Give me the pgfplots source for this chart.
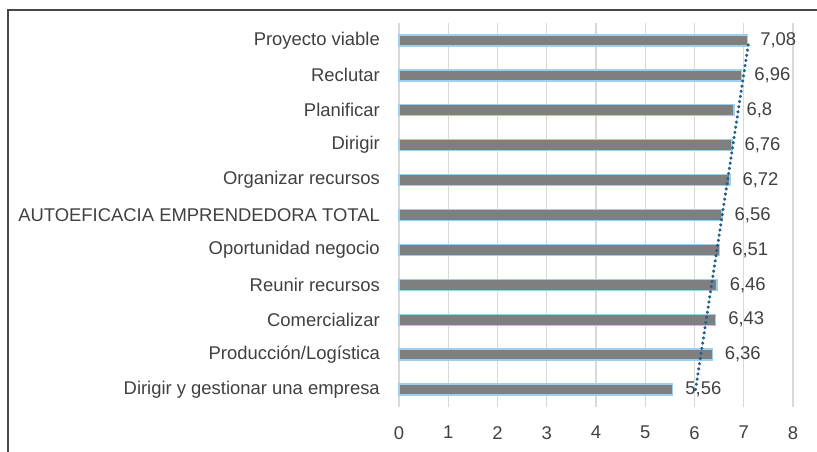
\documentclass[border=0pt]{standalone}
\usepackage{fontspec}
\setmainfont{Liberation Sans}
\usepackage{pgfplots}
\usepackage{pgfplotstable}
\pgfplotsset{compat=1.18}
\definecolor{barfill}{HTML}{7F7F7F}
\definecolor{baredge}{HTML}{9DD0EC}
\definecolor{trendc}{HTML}{1F5F8A}
\definecolor{txt}{HTML}{404040}
\definecolor{gridc}{HTML}{D9D9D9}
\pgfplotstableread{
idx val
0 5.56
1 6.36
2 6.43
3 6.46
4 6.51
5 6.56
6 6.72
7 6.76
8 6.80
9 6.96
10 7.08
}\datatable
\pgfplotstablecreatecol[linear regression={x=idx,y=val}]{trendx}\datatable
\begin{document}
\begin{tikzpicture}
\begin{axis}[
  at={(0,0)}, anchor=south west,
  scale only axis, width=394bp, height=384bp,
  xmin=0, xmax=8, ymin=-0.5, ymax=10.5,
  bar width=11bp,
  xtick={0,1,...,8},
  ytick={0,1,...,10},
  yticklabels={Dirigir y gestionar una empresa, Producción/Logística, Comercializar, Reunir recursos, Oportunidad negocio, AUTOEFICACIA EMPRENDEDORA TOTAL, Organizar recursos, Dirigir, Planificar, Reclutar, Proyecto viable},
  /pgf/number format/assume math mode=true,
  ticklabel style={font=\fontsize{18.5}{22}\selectfont, text=txt},
  yticklabel style={inner sep=0pt, anchor=east, xshift=-19bp},
  xticklabel style={inner sep=0pt, anchor=north, yshift=-19bp},
  axis line style={draw=none},
  tick style={draw=none},
  xmajorgrids, ymajorgrids=false,
  major grid style={color=gridc, line width=1.3bp},
  clip=false,
]
\addplot[xbar, fill=barfill, draw=baredge, line width=1.3bp,
  nodes near coords={\pgfmathprintnumber[use comma,precision=2]{\pgfplotspointmeta}},
  every node near coord/.append style={font=\fontsize{18.5}{22}\selectfont, text=txt, anchor=west, inner sep=0pt, xshift=12bp}]
  table[x=val, y=idx]{\datatable};
\addplot[sharp plot, color=trendc, line width=3.2bp, line cap=round, dash pattern=on 0.3bp off 4.9bp] table[x=trendx, y=idx]{\datatable};
\end{axis}
\draw[black!72, line width=2bp] (-391bp,-50bp) -- (-391bp,397bp);
\draw[black!72, line width=1.8bp] (-392bp,397bp) -- (425bp,397bp);
\pgfresetboundingbox
\path[use as bounding box] (-399bp,-45bp) rectangle (418bp,407bp);
\end{tikzpicture}
\end{document}
